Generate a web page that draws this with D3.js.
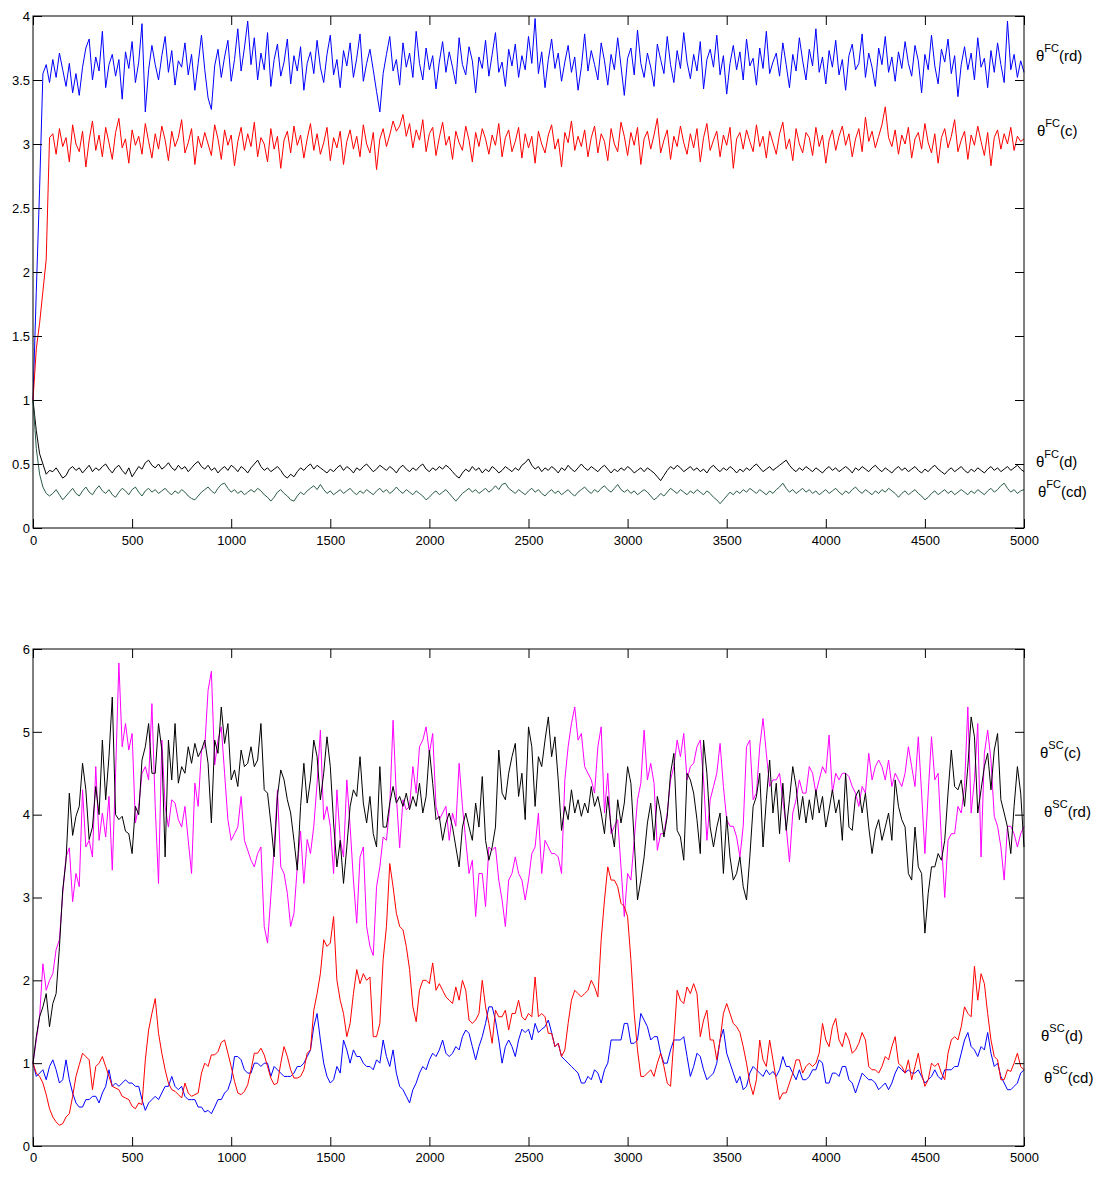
<!DOCTYPE html>
<html><head><meta charset="utf-8">
<script src="https://cdn.jsdelivr.net/npm/d3@7"></script>
<style>
body{margin:0;background:#fff}
text{font-family:Arial,"Liberation Sans",Helvetica,sans-serif}
</style>
</head><body>
<svg id="chart" width="1096" height="1180"></svg>
<script>
// iteration step between stored samples (301 samples over 0..5000)
const STEP = 5000 / 300;

// ---- Upper panel: first-choice estimates ----
const fcRd = [1.0,1.85,2.65,3.55,3.62,3.48,
3.66,3.52,3.71,3.58,3.45,3.63,3.40,3.55,3.38,3.60,
3.75,3.82,3.50,3.68,3.57,3.88,3.44,3.62,3.70,3.53,
3.66,3.35,3.72,3.59,3.80,3.48,3.64,3.94,3.25,3.58,
3.77,3.62,3.50,3.69,3.84,3.56,3.73,3.46,3.65,3.60,
3.79,3.54,3.70,3.42,3.63,3.85,3.58,3.36,3.27,3.61,
3.74,3.52,3.68,3.81,3.49,3.66,3.90,3.57,3.75,3.96,
3.62,3.83,3.50,3.71,3.58,3.87,3.45,3.66,3.78,3.53,
3.64,3.82,3.47,3.69,3.57,3.76,3.42,3.63,3.72,3.55,
3.81,3.60,3.48,3.70,3.85,3.54,3.66,3.44,3.73,3.61,
3.79,3.52,3.67,3.86,3.49,3.63,3.74,3.58,3.41,3.25,
3.55,3.70,3.84,3.57,3.66,3.46,3.79,3.60,3.71,3.52,
3.88,3.63,3.50,3.75,3.58,3.69,3.43,3.64,3.80,3.56,
3.72,3.60,3.47,3.83,3.62,3.54,3.76,3.65,3.40,3.68,
3.59,3.81,3.53,3.70,3.87,3.56,3.64,3.45,3.74,3.61,
3.78,3.52,3.69,3.58,3.84,3.63,3.98,3.55,3.72,3.44,
3.66,3.82,3.59,3.71,3.49,3.64,3.77,3.56,3.68,3.42,
3.60,3.86,3.57,3.73,3.62,3.50,3.79,3.65,3.46,3.70,
3.58,3.83,3.61,3.38,3.67,3.75,3.54,3.89,3.63,3.52,
3.71,3.60,3.45,3.78,3.66,3.55,3.84,3.62,3.48,3.73,
3.59,3.87,3.64,3.51,3.70,3.57,3.80,3.43,3.66,3.74,
3.60,3.85,3.54,3.69,3.39,3.63,3.77,3.58,3.72,3.50,
3.82,3.61,3.67,3.46,3.75,3.59,3.88,3.55,3.64,3.71,
3.53,3.79,3.62,3.44,3.70,3.57,3.83,3.65,3.50,3.74,
3.61,3.90,3.56,3.68,3.47,3.73,3.60,3.81,3.54,3.66,
3.42,3.69,3.78,3.58,3.63,3.86,3.52,3.71,3.60,3.45,
3.75,3.62,3.84,3.56,3.68,3.49,3.72,3.59,3.80,3.63,
3.53,3.77,3.65,3.40,3.70,3.58,3.85,3.61,3.47,3.74,
3.64,3.82,3.55,3.69,3.37,3.62,3.76,3.58,3.71,3.50,
3.83,3.60,3.67,3.44,3.73,3.56,3.79,3.62,3.48,3.96,
3.58,3.70,3.52,3.65,3.56];

const fcC = [1.0,1.40,1.60,1.85,2.10,3.05,
3.08,2.92,3.12,2.98,3.05,2.86,3.15,3.00,2.94,3.10,
2.82,3.03,3.18,2.95,3.07,2.90,3.13,3.01,2.88,3.09,
3.20,2.97,3.04,2.85,3.11,2.99,3.06,2.92,3.16,3.02,
2.89,3.08,2.96,3.14,3.03,2.87,3.10,2.98,3.05,3.19,
2.93,3.01,3.12,2.84,3.06,2.97,3.09,3.00,2.91,3.15,
3.04,2.88,3.11,2.99,3.07,2.83,3.02,3.13,2.95,3.08,
2.98,3.17,2.90,3.05,3.00,2.86,3.12,2.96,3.06,2.81,
3.03,3.10,2.93,3.14,2.99,3.07,2.89,3.04,3.16,2.95,
3.08,2.92,3.01,3.13,2.87,3.05,2.97,3.10,2.84,3.02,
3.11,2.96,3.06,2.90,3.15,3.00,2.93,3.09,2.80,3.04,
3.12,2.98,3.07,3.18,3.10,3.14,3.23,3.06,3.16,2.97,
3.11,3.03,3.19,2.94,3.08,3.13,2.91,3.05,3.17,2.99,
3.06,2.88,3.10,3.01,2.95,3.14,3.03,2.86,3.09,2.98,
3.12,3.04,2.92,3.07,2.99,3.16,2.90,3.05,3.11,2.94,
3.02,3.13,2.89,3.08,2.97,3.06,2.85,3.10,3.00,2.93,
3.07,3.15,2.96,3.04,2.82,3.09,3.01,3.18,2.95,3.06,
2.98,3.11,2.90,3.05,3.14,2.93,3.08,3.02,2.87,3.12,
3.00,2.94,3.17,3.06,2.91,3.09,2.99,3.13,2.84,3.04,
3.10,2.96,3.07,3.20,2.93,3.03,3.11,2.88,3.06,2.98,
3.14,3.01,2.92,3.08,2.97,3.12,2.86,3.05,3.16,2.95,
3.03,3.10,2.90,3.07,2.99,3.13,2.81,3.04,3.09,2.96,
3.11,3.02,2.94,3.15,2.98,3.06,2.89,3.10,3.01,2.92,
3.08,3.17,2.96,3.04,2.87,3.12,3.00,2.93,3.09,3.05,
2.91,3.13,2.98,3.07,2.85,3.03,3.11,2.95,3.06,3.14,
2.99,3.08,2.90,3.04,3.12,2.94,3.21,3.02,3.10,2.97,
3.06,3.15,3.29,3.05,2.98,3.11,2.92,3.07,3.00,3.13,
2.89,3.04,3.09,2.96,3.16,3.01,2.93,3.08,2.85,3.05,
3.12,2.97,3.06,3.19,2.94,3.03,3.10,2.88,3.07,2.99,
3.14,3.02,2.91,3.09,2.83,3.05,3.11,2.96,3.08,3.00,
3.13,2.95,3.06,3.02,3.04];

const fcD = [1.0,0.76,0.58,0.50,0.42,0.45,
0.44,0.47,0.43,0.39,0.41,0.46,0.48,0.45,0.47,0.43,
0.46,0.49,0.44,0.47,0.45,0.48,0.50,0.46,0.43,0.47,
0.49,0.45,0.42,0.47,0.40,0.44,0.48,0.46,0.51,0.53,
0.49,0.47,0.50,0.46,0.48,0.51,0.47,0.45,0.49,0.46,
0.48,0.44,0.47,0.50,0.52,0.48,0.46,0.49,0.45,0.47,
0.43,0.46,0.48,0.45,0.49,0.47,0.44,0.48,0.46,0.43,
0.47,0.50,0.53,0.48,0.45,0.47,0.44,0.46,0.48,0.45,
0.41,0.39,0.42,0.40,0.44,0.47,0.45,0.48,0.50,0.46,
0.49,0.47,0.45,0.43,0.46,0.44,0.47,0.49,0.45,0.48,
0.46,0.43,0.47,0.45,0.48,0.50,0.47,0.44,0.46,0.49,
0.47,0.45,0.48,0.46,0.43,0.47,0.49,0.46,0.44,0.47,
0.45,0.48,0.50,0.46,0.44,0.47,0.45,0.48,0.46,0.49,
0.47,0.44,0.41,0.39,0.43,0.46,0.44,0.48,0.45,0.47,
0.43,0.46,0.44,0.48,0.46,0.43,0.45,0.48,0.46,0.44,
0.47,0.45,0.49,0.51,0.54,0.49,0.46,0.48,0.44,0.47,
0.45,0.48,0.46,0.43,0.47,0.45,0.49,0.46,0.44,0.47,
0.50,0.47,0.45,0.48,0.46,0.44,0.47,0.49,0.46,0.43,
0.46,0.44,0.47,0.45,0.48,0.46,0.43,0.45,0.47,0.44,
0.47,0.45,0.43,0.40,0.37,0.41,0.45,0.48,0.46,0.49,
0.47,0.44,0.46,0.48,0.45,0.47,0.44,0.46,0.43,0.47,
0.49,0.46,0.44,0.47,0.45,0.48,0.46,0.43,0.46,0.44,
0.47,0.45,0.48,0.50,0.47,0.44,0.46,0.48,0.45,0.47,
0.49,0.51,0.53,0.49,0.46,0.44,0.47,0.45,0.48,0.46,
0.44,0.47,0.45,0.43,0.46,0.48,0.45,0.47,0.44,0.46,
0.48,0.46,0.43,0.47,0.45,0.48,0.46,0.44,0.47,0.49,
0.46,0.44,0.47,0.45,0.43,0.46,0.48,0.45,0.47,0.44,
0.46,0.48,0.45,0.43,0.46,0.44,0.47,0.49,0.46,0.44,
0.42,0.45,0.47,0.44,0.46,0.48,0.45,0.43,0.46,0.44,
0.47,0.45,0.43,0.46,0.48,0.45,0.47,0.44,0.46,0.48,
0.45,0.47,0.49,0.46,0.44];

const fcCd = [1.0,0.62,0.42,0.32,0.27,0.25,
0.27,0.30,0.26,0.22,0.25,0.28,0.31,0.27,0.25,0.29,
0.32,0.28,0.26,0.30,0.33,0.29,0.27,0.30,0.26,0.24,
0.28,0.31,0.29,0.26,0.30,0.32,0.28,0.25,0.29,0.31,
0.28,0.30,0.27,0.29,0.31,0.28,0.26,0.29,0.27,0.30,
0.28,0.25,0.23,0.22,0.25,0.28,0.30,0.32,0.29,0.27,
0.31,0.34,0.35,0.31,0.28,0.30,0.27,0.29,0.26,0.28,
0.30,0.28,0.31,0.29,0.26,0.24,0.21,0.24,0.28,0.30,
0.27,0.25,0.22,0.21,0.25,0.28,0.26,0.29,0.31,0.33,
0.30,0.34,0.30,0.27,0.29,0.26,0.28,0.30,0.27,0.29,
0.31,0.28,0.26,0.29,0.27,0.30,0.28,0.26,0.29,0.31,
0.28,0.30,0.27,0.29,0.32,0.29,0.27,0.30,0.28,0.26,
0.29,0.27,0.25,0.22,0.24,0.27,0.29,0.26,0.28,0.30,
0.27,0.24,0.21,0.24,0.27,0.29,0.31,0.28,0.30,0.27,
0.29,0.31,0.28,0.30,0.33,0.30,0.34,0.35,0.31,0.29,
0.27,0.30,0.28,0.26,0.29,0.31,0.28,0.30,0.27,0.25,
0.28,0.30,0.27,0.29,0.26,0.28,0.30,0.27,0.25,0.28,
0.30,0.32,0.29,0.27,0.30,0.28,0.31,0.33,0.30,0.28,
0.31,0.34,0.30,0.28,0.30,0.27,0.29,0.26,0.28,0.30,
0.28,0.25,0.22,0.24,0.27,0.25,0.28,0.31,0.29,0.27,
0.30,0.28,0.26,0.29,0.27,0.30,0.28,0.26,0.29,0.27,
0.24,0.22,0.19,0.22,0.25,0.28,0.26,0.29,0.27,0.30,
0.28,0.31,0.29,0.27,0.30,0.28,0.26,0.29,0.27,0.30,
0.32,0.35,0.31,0.28,0.30,0.27,0.29,0.31,0.28,0.30,
0.27,0.29,0.26,0.28,0.30,0.27,0.29,0.31,0.28,0.26,
0.29,0.27,0.30,0.32,0.29,0.27,0.30,0.28,0.26,0.29,
0.27,0.30,0.28,0.31,0.29,0.27,0.24,0.27,0.29,0.26,
0.28,0.30,0.27,0.25,0.22,0.24,0.27,0.29,0.26,0.28,
0.30,0.27,0.29,0.26,0.28,0.30,0.28,0.26,0.29,0.27,
0.30,0.28,0.26,0.29,0.31,0.28,0.30,0.33,0.35,0.31,
0.28,0.30,0.27,0.29,0.30];

// ---- Lower panel: second-choice estimates ----
const scC = [1.0,1.32,1.56,1.68,1.84,1.44,1.72,1.84,2.4,3.09,
3.45,4.26,3.75,3.98,4.1,4.62,4.3,3.7,3.85,4.34,
4.0,4.9,4.18,4.7,5.42,4.0,3.94,3.98,3.8,3.77,
3.53,4.1,4.0,4.66,4.82,5.1,4.5,4.5,5.1,4.78,
3.49,4.9,4.42,5.1,4.38,4.58,4.5,4.82,4.62,4.86,
4.7,4.78,4.9,4.62,3.9,4.9,4.74,5.3,4.86,5.1,
4.42,4.54,4.34,4.78,4.58,4.62,4.82,4.58,4.66,5.1,
4.3,4.26,3.9,3.49,4.22,4.54,4.42,4.18,4.02,3.69,
3.33,4.1,4.62,4.14,4.42,4.9,4.7,4.18,4.5,4.94,
4.58,3.9,3.37,3.69,3.17,3.61,4.1,4.3,4.22,4.7,
4.14,3.9,4.22,3.77,3.61,4.58,3.85,3.85,4.14,4.34,
4.14,4.22,4.1,4.26,4.06,4.22,4.1,4.38,4.02,4.22,
4.78,4.38,3.94,3.98,3.69,3.9,4.02,3.85,3.61,3.37,
3.85,4.02,3.85,3.69,4.14,3.85,4.46,3.69,3.45,3.61,
3.85,4.78,4.26,4.18,4.5,4.7,4.86,4.22,4.5,3.94,
5.06,4.82,4.1,4.7,4.58,4.9,5.18,4.7,4.94,4.42,
3.81,4.1,3.94,4.3,4.02,4.18,3.98,4.14,4.02,4.34,
4.1,4.22,4.02,3.77,4.22,3.85,3.61,4.18,3.9,4.14,
4.58,4.38,3.69,2.97,3.21,3.49,3.9,4.14,3.69,4.22,
4.02,3.73,3.98,4.5,4.74,3.81,3.73,3.45,4.5,4.42,
4.26,3.94,3.53,4.9,4.5,3.85,3.61,3.85,4.02,3.29,
3.98,3.49,3.21,3.29,3.49,3.13,2.97,3.49,4.1,4.22,
4.5,3.61,4.18,4.66,4.02,4.38,3.77,4.38,3.81,4.18,
4.58,4.34,3.94,4.22,3.9,4.18,3.94,4.3,4.02,4.22,
3.85,4.06,4.3,4.02,4.18,3.69,4.5,3.85,3.81,4.22,
4.3,4.02,4.26,3.85,3.53,3.81,3.94,3.69,3.85,4.02,
3.69,4.42,4.1,3.94,3.85,3.29,3.21,3.85,3.37,3.29,
2.57,3.05,3.37,3.37,3.53,3.45,3.69,4.26,4.78,4.34,
4.3,4.42,4.1,4.58,5.18,4.94,4.02,4.3,4.58,4.74,
4.3,4.78,4.98,4.18,4.02,3.85,3.53,4.1,4.58,4.26,
3.61];

const scRd = [1.0,1.28,1.56,2.2,1.88,2.0,2.08,2.37,2.49,3.05,
3.49,3.6,2.95,3.29,3.13,4.3,3.61,3.69,3.49,4.58,
3.69,4.02,3.73,4.22,3.33,4.5,5.83,4.82,5.1,4.78,
4.98,3.9,4.1,4.5,4.58,4.42,5.34,4.1,3.17,4.9,
4.1,3.85,4.18,4.14,3.94,3.85,4.1,3.69,3.29,4.38,
4.1,4.78,4.82,5.5,5.73,4.6,4.9,5.06,4.5,3.94,
3.69,3.77,3.85,4.22,3.69,3.57,3.45,3.37,3.53,3.61,
2.65,2.45,3.01,3.6,4.3,3.37,3.29,3.05,2.65,2.81,
3.37,3.8,3.17,3.7,3.53,3.86,4.38,5.02,3.94,4.1,
3.86,3.29,4.3,3.7,3.49,4.42,3.86,3.21,2.69,3.49,
3.61,2.65,2.41,2.3,3.13,3.37,3.73,3.69,4.1,5.14,
4.22,3.6,4.18,4.06,4.1,4.58,4.26,4.82,4.9,5.06,
4.74,4.98,4.1,3.94,4.02,4.1,3.69,4.02,3.86,4.62,
4.1,3.69,3.29,3.45,2.77,3.29,3.29,2.89,3.61,3.57,
3.61,3.21,2.97,2.65,3.21,3.29,3.49,3.29,3.21,2.97,
3.21,3.53,3.61,4.02,3.29,3.69,3.61,3.53,3.53,3.49,
3.29,4.42,4.82,5.1,5.3,4.9,4.98,4.58,4.5,4.42,
4.26,4.82,5.06,4.02,4.5,3.77,3.86,3.94,3.37,2.77,
3.29,3.21,3.69,4.18,4.38,5.02,4.42,4.62,4.38,3.57,
3.77,3.77,4.02,4.42,4.58,4.9,4.7,4.98,4.42,4.58,
4.62,4.82,4.9,4.42,3.69,4.18,4.34,4.5,4.86,4.34,
3.94,3.86,3.86,3.73,3.49,3.86,4.82,4.9,4.18,4.26,
4.82,5.16,4.74,4.34,4.42,4.42,4.5,4.18,3.86,3.43,
4.02,4.18,4.42,4.26,4.26,4.58,4.5,4.26,4.42,4.58,
4.5,4.96,4.26,4.5,4.42,4.5,4.5,4.46,4.34,4.26,
4.1,4.34,4.26,4.74,4.42,4.58,4.66,4.58,4.42,4.66,
4.34,4.5,4.42,4.34,4.5,4.82,4.58,4.34,4.94,4.26,
3.53,4.26,4.94,4.42,4.5,3.69,3.0,3.69,3.77,3.77,
4.1,4.02,4.34,5.3,4.02,4.42,5.1,3.49,4.74,5.02,
4.66,3.98,3.86,3.61,3.21,3.86,3.86,3.77,3.61,3.77,
3.86];

const scD = [1.0,0.88,0.84,0.76,0.62,0.45,0.35,0.29,0.25,0.27,
0.35,0.39,0.6,0.84,0.98,1.12,1.08,1.04,0.68,0.96,
1.0,1.08,0.96,0.84,0.72,0.7,0.68,0.6,0.58,0.56,
0.48,0.45,0.52,0.5,1.04,1.4,1.6,1.78,1.36,1.12,
0.92,0.76,0.68,0.66,0.62,0.58,0.76,0.64,0.6,0.62,
0.64,0.88,1.0,0.96,1.1,1.1,1.14,1.25,1.28,1.12,
0.96,0.78,0.64,0.62,0.66,0.74,0.92,1.12,1.12,1.18,
1.1,0.96,0.82,0.74,0.76,1.0,1.2,1.08,0.92,0.82,
0.82,0.84,0.92,1.12,1.16,1.64,1.84,2.08,2.49,2.41,
2.45,2.77,2.0,1.76,1.6,1.32,1.48,1.84,2.13,1.96,
2.08,2.0,2.04,1.32,1.32,1.48,2.25,2.65,3.41,3.13,
2.81,2.65,2.61,2.41,2.13,1.68,1.5,1.88,2.0,2.0,
1.96,2.21,1.88,1.96,1.88,1.8,1.76,1.72,1.92,1.76,
2.0,1.88,1.52,1.48,1.52,1.6,2.0,1.68,1.48,1.24,
1.64,1.56,1.56,1.64,1.4,1.6,1.6,1.76,1.56,1.52,
1.6,1.56,2.04,1.56,1.6,1.56,1.36,1.36,1.2,1.24,
1.08,1.16,1.48,1.76,1.88,1.84,1.8,1.84,1.88,2.0,
1.92,1.8,2.49,2.97,3.37,3.21,3.21,3.13,2.93,2.89,
2.77,2.25,1.6,1.16,0.84,0.84,0.88,0.92,0.84,1.0,
1.12,0.96,0.76,0.72,1.28,1.88,1.76,1.72,1.92,1.84,
1.96,1.84,1.32,1.52,1.64,1.28,1.28,1.04,1.28,1.6,
1.72,1.6,1.48,1.44,1.37,1.2,1.0,0.76,0.62,0.8,
1.28,1.04,0.96,1.28,1.04,0.8,0.56,0.64,0.64,0.76,
0.88,1.04,1.04,0.88,0.96,1.0,0.96,1.0,1.12,1.48,
1.28,1.2,1.44,1.54,1.28,1.2,1.37,1.28,1.12,1.16,
1.24,1.37,1.28,0.96,0.92,0.92,0.88,0.96,1.08,1.04,
1.2,1.32,1.0,0.96,0.88,1.04,0.8,0.96,1.12,0.88,
0.72,0.8,1.0,0.96,1.0,0.88,0.8,1.12,1.28,1.32,
1.28,1.44,1.68,1.6,1.56,2.17,1.76,2.08,1.96,1.6,
1.28,1.08,1.04,0.8,0.8,0.92,0.9,1.0,1.12,0.96,
0.92];

const scCd = [1.0,0.84,0.88,0.92,0.8,0.96,1.04,0.92,0.76,0.8,
1.04,0.8,0.64,0.52,0.47,0.47,0.56,0.56,0.6,0.6,
0.52,0.64,0.72,0.92,0.72,0.76,0.72,0.76,0.8,0.76,
0.76,0.72,0.72,0.56,0.43,0.52,0.56,0.6,0.56,0.64,
0.72,0.72,0.84,0.72,0.68,0.72,0.6,0.56,0.56,0.56,
0.47,0.47,0.41,0.43,0.39,0.47,0.56,0.56,0.64,0.68,
0.8,1.08,1.08,1.04,0.92,0.88,0.88,1.0,1.0,0.96,
1.0,1.0,0.84,0.96,0.92,0.88,0.84,0.84,0.84,0.88,
0.96,0.96,1.0,1.08,1.16,1.44,1.6,1.28,1.0,0.84,
0.76,0.8,0.96,0.88,1.28,1.16,1.0,1.16,1.08,1.08,
1.0,0.96,0.96,0.92,1.04,1.0,1.28,1.08,0.96,1.16,
0.88,0.72,0.68,0.6,0.52,0.68,0.76,0.88,0.96,0.92,
1.04,1.12,1.08,1.16,1.28,1.12,1.08,1.12,1.2,1.16,
1.32,1.4,1.36,1.2,1.04,1.2,1.32,1.48,1.68,1.68,
1.52,1.28,1.0,1.2,1.28,1.2,1.08,1.28,1.41,1.37,
1.41,1.28,1.48,1.37,1.41,1.44,1.52,1.37,1.2,1.24,
1.08,1.04,1.0,0.96,0.92,0.88,0.76,0.76,0.84,0.8,
0.92,0.88,0.76,0.92,1.0,1.28,1.28,1.28,1.28,1.48,
1.48,1.24,1.24,1.28,1.6,1.52,1.44,1.28,1.32,1.32,
1.12,1.0,1.0,1.16,1.28,1.28,1.28,1.32,1.08,0.84,
0.96,1.12,1.08,0.92,0.8,0.84,0.88,1.0,1.28,1.41,
1.12,1.0,0.88,0.76,0.84,0.68,0.72,0.88,0.96,0.92,
0.88,0.84,0.92,0.86,0.9,0.84,0.92,1.08,0.96,0.96,
0.88,0.8,0.92,0.8,0.8,0.84,0.92,0.92,1.04,1.0,
0.76,0.76,0.88,0.88,0.84,0.96,0.96,0.8,0.76,0.64,
0.76,0.88,0.84,0.8,0.8,0.76,0.68,0.72,0.76,0.68,
0.76,0.88,0.96,0.92,0.88,0.92,0.88,0.88,0.92,0.84,
0.76,0.8,0.84,0.92,0.84,0.8,0.92,0.92,0.92,0.96,
0.96,1.12,1.28,1.37,1.2,1.16,1.08,1.2,1.16,1.37,
1.12,0.96,1.0,0.84,0.76,0.68,0.68,0.72,0.76,0.88,
0.92];

// ---- ticks ----
const xTickValues = [0,500,1000,1500,2000,2500,3000,3500,4000,4500,5000];
const yTicksTop = [0,0.5,1,1.5,2,2.5,3,3.5,4];
const yTicksBottom = [0,1,2,3,4,5,6];

// ---- series definitions (name, superscript, subscript label, data, colour) ----
const topSeries = [
  {sup:"FC", arg:"(rd)", data:fcRd, color:"#0000ff"},
  {sup:"FC", arg:"(c)",  data:fcC,  color:"#ff0000"},
  {sup:"FC", arg:"(d)",  data:fcD,  color:"#000000"},
  {sup:"FC", arg:"(cd)", data:fcCd, color:"#2b5e46"}
];
const bottomSeries = [
  {sup:"SC", arg:"(rd)", data:scRd, color:"#ff00ff"},
  {sup:"SC", arg:"(c)",  data:scC,  color:"#000000"},
  {sup:"SC", arg:"(cd)", data:scCd, color:"#0000ff"},
  {sup:"SC", arg:"(d)",  data:scD,  color:"#ff0000"}
];

const svg = d3.select("#chart");
const X0 = 33, X1 = 1024;

function panel(cfg){
  const x = d3.scaleLinear().domain([0,5000]).range([X0,X1]);
  const y = d3.scaleLinear().domain(cfg.yDomain).range([cfg.bottom,cfg.top]);
  const g = svg.append("g");
  // lines
  const line = d3.line().x((d,i)=>x(i*STEP)).y(d=>y(d));
  cfg.series.forEach(s=>{
    g.append("path").datum(s.data).attr("d",line)
      .attr("fill","none").attr("stroke",s.color).attr("stroke-width",1)
      .attr("stroke-linejoin","round");
  });
  // axes with inward ticks
  const fs = "13px";
  const ax = g.append("g").attr("transform",`translate(0,${cfg.bottom})`)
    .call(d3.axisBottom(x).tickValues(xTickValues).tickSizeInner(-9).tickSizeOuter(0).tickPadding(cfg.xPad).tickFormat(d3.format("d")));
  const axT = g.append("g").attr("transform",`translate(0,${cfg.top})`)
    .call(d3.axisTop(x).tickValues(xTickValues).tickSizeInner(-9).tickSizeOuter(0).tickFormat(""));
  const ay = g.append("g").attr("transform",`translate(${X0},0)`)
    .call(d3.axisLeft(y).tickValues(cfg.yTicks).tickSizeInner(-9).tickSizeOuter(0).tickPadding(3).tickFormat(d=>String(d)));
  const ayR = g.append("g").attr("transform",`translate(${X1},0)`)
    .call(d3.axisRight(y).tickValues(cfg.yTicks).tickSizeInner(-9).tickSizeOuter(0).tickFormat(""));
  [ax,axT,ay,ayR].forEach(a=>{
    a.select(".domain").remove();
    a.selectAll("line").attr("stroke","#000");
    a.selectAll("text").attr("fill","#000").style("font-size",fs)
      .style("font-family","Arial, 'Liberation Sans', Helvetica, sans-serif");
  });
  // frame
  g.append("rect").attr("x",X0).attr("y",cfg.top).attr("width",X1-X0).attr("height",cfg.bottom-cfg.top)
    .attr("fill","none").attr("stroke","#000").attr("stroke-width",1);
  // right-hand labels
  cfg.labels.forEach(l=>{
    const t = g.append("text").attr("x",l.x).attr("y",l.y).attr("fill","#000")
      .style("font-size","15px");
    t.append("tspan").text("θ");
    t.append("tspan").attr("dy",-9).style("font-size","11px").text(l.sup);
    t.append("tspan").attr("dy",9).text(l.arg);
  });
}

panel({
  top:16, bottom:528, yDomain:[0,4], yTicks:yTicksTop, xPad:8,
  series: topSeries,
  labels:[
    {sup:"FC", arg:"(rd)", x:1036, y:61},
    {sup:"FC", arg:"(c)",  x:1037, y:136},
    {sup:"FC", arg:"(d)",  x:1036, y:467},
    {sup:"FC", arg:"(cd)", x:1038, y:497}
  ]
});
panel({
  top:649, bottom:1146, yDomain:[0,6], yTicks:yTicksBottom, xPad:7,
  series: bottomSeries,
  labels:[
    {sup:"SC", arg:"(c)",  x:1040, y:758},
    {sup:"SC", arg:"(rd)", x:1044, y:817},
    {sup:"SC", arg:"(d)",  x:1041, y:1041},
    {sup:"SC", arg:"(cd)", x:1044, y:1083}
  ]
});
</script>
</body></html>
